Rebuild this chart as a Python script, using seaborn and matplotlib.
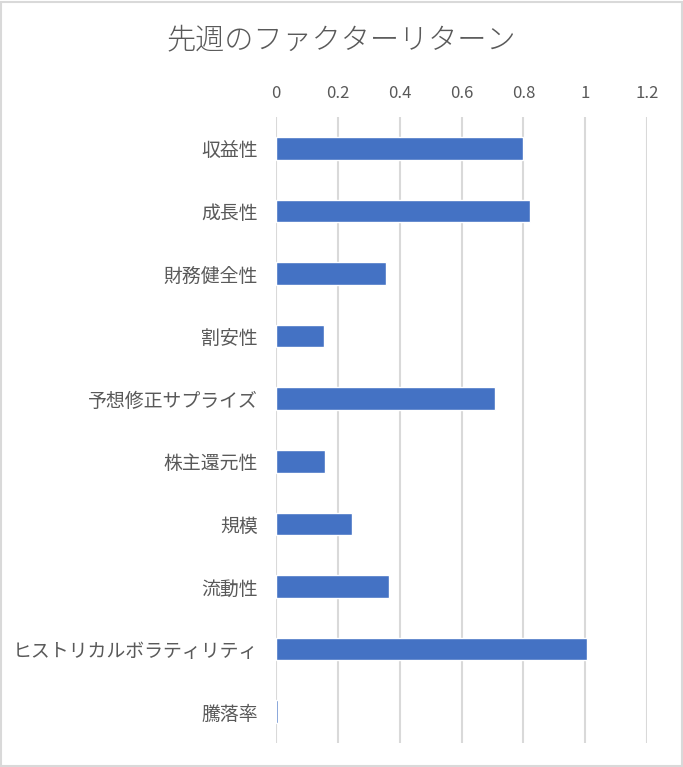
import pandas as pd
import numpy as np
import seaborn as sns
from matplotlib import pyplot as plt
from matplotlib.patches import Rectangle

factors = ['収益性', '成長性', '財務健全性', '割安性', '予想修正サプライズ',
           '株主還元性', '規模', '流動性', 'ヒストリカルボラティリティ', '騰落率']
returns = [0.80, 0.821, 0.356, 0.154, 0.708, 0.158, 0.246, 0.365, 1.005, 0.005]
ticks = [0, 0.2, 0.4, 0.6, 0.8, 1.0, 1.2]
tick_labels = ['0', '0.2', '0.4', '0.6', '0.8', '1', '1.2']

df = pd.DataFrame({'factor': factors, 'ret': returns})

sns.set_style('white')
plt.rcParams['font.family'] = ['Noto Sans CJK JP', 'DejaVu Sans']

fig = plt.figure(figsize=(6.83, 7.67), dpi=100)
ax = fig.add_axes([0.4041, 0.0313, 0.5432, 0.8162])
sns.barplot(x='ret', y='factor', data=df, color='#4472C4', width=0.36,
            saturation=1, ax=ax, zorder=3)

ax.set_xlim(0, 1.2)
ax.set_xticks(ticks)
ax.set_xticklabels(tick_labels)
ax.xaxis.tick_top()
ax.grid(axis='x', color='#d9d9d9', linewidth=1.5, zorder=0)
ax.set_axisbelow(True)
for s in ax.spines.values():
    s.set_visible(False)
ax.tick_params(axis='x', length=0, pad=10.5, labelsize=12, labelcolor='#595959')
ax.tick_params(axis='y', length=0, pad=13, labelsize=13.6, labelcolor='#595959')
ax.set_xlabel('')
ax.set_ylabel('')

fig.text(0.5, 0.948, '先週のファクターリターン', ha='center', va='center',
         fontsize=21, color='#595959', fontweight='light')
fig.patches.append(Rectangle((0.001, 0.001), 0.997, 0.997, transform=fig.transFigure,
                             fill=False, edgecolor='#d9d9d9', linewidth=1.5))

plt.savefig('out.png', dpi=100)
